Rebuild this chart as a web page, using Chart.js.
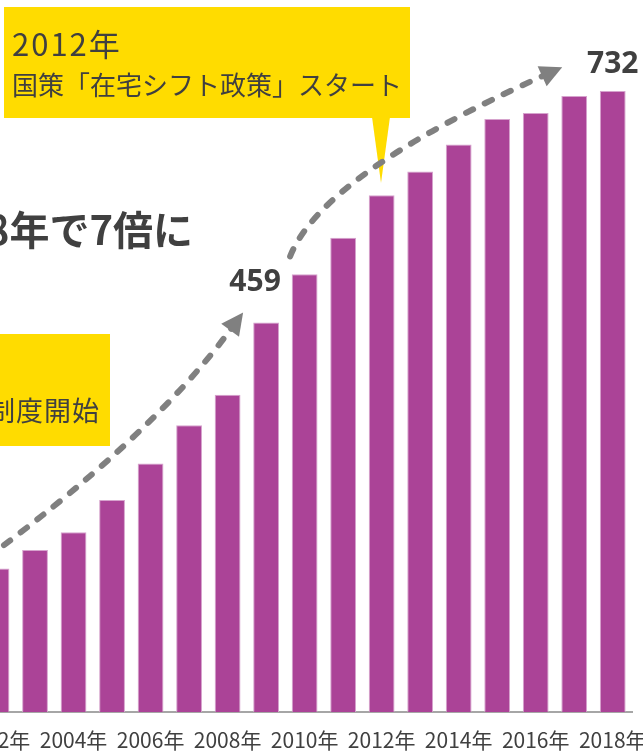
<!DOCTYPE html>
<html><head><meta charset="utf-8">
<script src="https://cdn.jsdelivr.net/npm/chart.js@4.4.1/dist/chart.umd.min.js"></script>
<style>
html,body{margin:0;padding:0;background:#fff;overflow:hidden;width:643px;height:752px;}
#wrap{position:absolute;left:-60px;top:0;width:743px;height:752px;}
</style></head><body>
<div id="wrap"><canvas id="c"></canvas></div>
<script>
// ---- data ----
const years = ['2002','2003','2004','2005','2006','2007','2008','2009','2010','2011','2012','2013','2014','2015','2016','2017','2018'];
const values = [169,191,212,250,293,338,374,459,516,559,609,637,669,699,706,726,732];
const tickYears = ['2002','2004','2006','2008','2010','2012','2014','2016','2018'];
const labelYears = ['2009','2018'];
const titleText = '18年で7倍に';
const callout1 = ['2012年','国策「在宅シフト政策」スタート'];
const callout2 = ['2000年','介護保険制度開始'];

const SHIFT = 60; // canvas offset vs page
const CJK = '"Noto Sans CJK JP","Noto Sans",sans-serif';
const TXT = '#404040';
const YEL = '#FFDC00';

function dashedArrow(ctx, p0, p1, p2) {
  const dx = p2.x - p1.x, dy = p2.y - p1.y;
  const len = Math.hypot(dx, dy), ux = dx/len, uy = dy/len;
  const headL = 22, headW = 11;
  const end = {x: p2.x - ux*(headL-4), y: p2.y - uy*(headL-4)};
  ctx.save();
  ctx.strokeStyle = '#808080';
  ctx.lineWidth = 6;
  ctx.lineCap = 'round';
  ctx.setLineDash([8, 13]);
  ctx.beginPath();
  ctx.moveTo(p0.x, p0.y);
  ctx.quadraticCurveTo(p1.x, p1.y, end.x, end.y);
  ctx.stroke();
  ctx.setLineDash([]);
  ctx.fillStyle = '#808080';
  ctx.beginPath();
  ctx.moveTo(p2.x, p2.y);
  const bx = p2.x - ux*headL, by = p2.y - uy*headL;
  ctx.lineTo(bx - uy*headW, by + ux*headW);
  ctx.lineTo(bx + uy*headW, by - ux*headW);
  ctx.closePath();
  ctx.fill();
  ctx.restore();
}

const decor = {
  id: 'decor',
  afterDraw(chart) {
    const ctx = chart.ctx;
    const xs = chart.scales.x, ys = chart.scales.y;
    const P = (i, v) => ({x: xs.getPixelForValue(i), y: ys.getPixelForValue(v)});

    // callout boxes (page coordinates)
    ctx.save();
    ctx.translate(SHIFT, 0);
    ctx.fillStyle = YEL;
    ctx.fillRect(4, 7, 406, 111);
    ctx.beginPath();
    ctx.moveTo(372, 117); ctx.lineTo(390, 117); ctx.lineTo(381, 183); ctx.closePath();
    ctx.fill();
    ctx.fillRect(-135, 334, 245, 112);

    ctx.fillStyle = TXT;
    ctx.textAlign = 'left';
    ctx.textBaseline = 'alphabetic';
    ctx.font = '31px ' + CJK;
    ctx.letterSpacing = '2px';
    ctx.fillText(callout1[0], 12, 56);
    ctx.fillText(callout2[0], -124, 382);
    ctx.font = '26px ' + CJK;
    ctx.letterSpacing = '0px';
    ctx.fillText(callout1[1], 12, 95);
    ctx.font = '27px ' + CJK;
    ctx.letterSpacing = '1px';
    ctx.fillText(callout2[1], -124, 421);
    ctx.letterSpacing = '0px';

    // title
    ctx.font = 'bold 40px ' + CJK;
    ctx.textAlign = 'right';
    ctx.fillText(titleText, 193, 245);
    ctx.restore();

    // arrows (data space)
    dashedArrow(ctx, P(-0.688, 167), P(3.987, 321), P(6.403, 471));
    dashedArrow(ctx, P(7.623, 537), P(8.455, 633), P(14.688, 760));

    // value labels
    ctx.save();
    ctx.fillStyle = TXT;
    ctx.font = 'bold 30px "Noto Sans",sans-serif';
    ctx.textAlign = 'center';
    ctx.textBaseline = 'alphabetic';
    labelYears.forEach(y => {
      const i = years.indexOf(y);
      const p = P(i, values[i]);
      const off = (i === years.length - 1) ? {dx: 0, dy: 29} : {dx: -11, dy: 42};
      ctx.fillText(String(values[i]), p.x + off.dx, p.y - off.dy + 10.7);
    });
    ctx.restore();
  }
};

new Chart(document.getElementById('c'), {
  type: 'bar',
  data: {
    labels: years,
    datasets: [{
      data: values,
      backgroundColor: '#AB4397',
      borderColor: '#D6A3CD',
      borderWidth: 1,
      barPercentage: 0.67,
      categoryPercentage: 1
    }]
  },
  options: {
    responsive: true,
    maintainAspectRatio: false,
    animation: false,
    layout: {padding: {left: 37.25, right: 51, top: 33.3, bottom: 0}},
    plugins: {legend: {display: false}, tooltip: {enabled: false}},
    scales: {
      x: {
        grid: {display: false, drawTicks: false},
        border: {display: true, color: '#A6A6A6', width: 2},
        ticks: {
          autoSkip: false, maxRotation: 0, minRotation: 0, padding: 15,
          color: TXT,
          font: {family: CJK, size: 21},
          callback: (v, i) => tickYears.includes(years[i]) ? years[i] + '年' : ''
        },
        afterFit: s => { s.height = 40; }
      },
      y: {display: false, min: 0, max: 800}
    }
  },
  plugins: [decor]
});
</script>
</body></html>
